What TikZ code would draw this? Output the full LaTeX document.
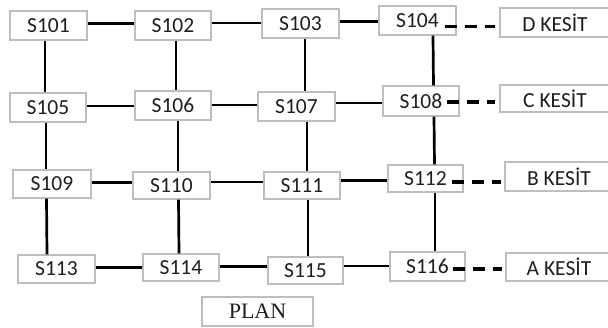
\documentclass[tikz,border=0pt]{standalone}
\usepackage{fontspec}
\setmainfont{Carlito}
\newfontfamily\planfont{Liberation Serif}
\definecolor{boxgray}{RGB}{190,190,190}
\definecolor{txt}{RGB}{30,30,30}
\begin{document}
\begin{tikzpicture}[x=1pt,y=-1pt,
  sbox/.style={draw=boxgray,line width=1.2pt,fill=white,inner sep=0pt,text=txt,
    minimum width=76pt,minimum height=29pt,font=\fontsize{21.5}{21.5}\selectfont},
  kbox/.style={sbox,minimum width=110pt},
  link/.style={line width=2.7pt,black},
  dashlink/.style={line width=3.6pt,black,dash pattern=on 12pt off 8pt}]
\useasboundingbox (0,0) rectangle (608,327);
% row 1
\node[sbox,minimum width=77pt] (S101) at (48.5,25.5) {S101};
\node[sbox] (S102) at (173,25.5) {S102};
\node[sbox,minimum width=77pt] (S103) at (300.5,23.5) {S103};
\node[sbox,minimum width=77pt] (S104) at (417.5,20.5) {S104};
\node[kbox] (D) at (555,22.5) {D KESİT};
% row 2
\node[sbox] (S105) at (48,107.5) {S105};
\node[sbox] (S106) at (173,105.5) {S106};
\node[sbox,minimum width=77pt] (S107) at (296.5,106.5) {S107};
\node[sbox,minimum height=30pt] (S108) at (421,101) {S108};
\node[kbox,minimum height=27pt] (C) at (555,98.5) {C KESİT};
% row 3
\node[sbox,minimum width=78pt,minimum height=28pt] (S109) at (52,184) {S109};
\node[sbox,minimum width=77pt,minimum height=27pt] (S110) at (171.5,185.5) {S110};
\node[sbox,minimum height=27pt] (S111) at (302,185.5) {S111};
\node[sbox,minimum width=75pt,minimum height=27pt] (S112) at (425.5,178.5) {S112};
\node[kbox,minimum width=108pt] (B) at (559,176.5) {B KESİT};
% row 4
\node[sbox,minimum width=77pt,minimum height=28pt] (S113) at (56.5,269) {S113};
\node[sbox,minimum height=27pt] (S114) at (181,267.5) {S114};
\node[sbox,minimum width=75pt,minimum height=27pt] (S115) at (305.5,270.5) {S115};
\node[sbox,minimum width=75pt] (S116) at (427.5,266.5) {S116};
\node[kbox,minimum width=106pt,minimum height=28pt] (A) at (559,267) {A KESİT};
% plan label
\node[sbox,minimum width=111pt,font=\planfont\fontsize{22}{22}\selectfont] (PLAN) at (257.5,311.5) {PLAN};
% horizontal links
\draw[link] ([yshift=2.2pt]S101.east) -- ([yshift=2.2pt]S102.west);
\draw[link] ([yshift=2.5pt]S102.east) -- ([yshift=0.5pt]S103.west);
\draw[link] ([yshift=1.8pt]S103.east) -- ([yshift=-1.2pt]S104.west);
\draw[link] ([yshift=1.5pt]S105.east) -- ([yshift=-0.5pt]S106.west);
\draw[link] ([yshift=0.5pt]S106.east) -- ([yshift=1.5pt]S107.west);
\draw[link] ([yshift=3.5pt]S107.east) -- ([yshift=-2pt]S108.west);
\draw[link] ([yshift=1.3pt]S109.east) -- ([yshift=2.8pt]S110.west);
\draw[link] ([yshift=3.5pt]S110.east) -- ([yshift=3.5pt]S111.west);
\draw[link] ([yshift=4.8pt]S111.east) -- ([yshift=-2.2pt]S112.west);
\draw[link] ([yshift=1.3pt]S113.east) -- ([yshift=-0.2pt]S114.west);
\draw[link] ([yshift=0.8pt]S114.east) -- ([yshift=3.8pt]S115.west);
\draw[link] ([yshift=4.5pt]S115.east) -- ([yshift=0.5pt]S116.west);
% vertical links
\draw[link] ([xshift=-3.5pt]S101.south) -- ([xshift=-3pt]S105.north);
\draw[link] ([xshift=-2pt]S105.south) -- ([xshift=-6pt]S109.north);
\draw[link] ([xshift=-5.5pt]S109.south) -- ([xshift=-9.5pt]S113.north);
\draw[link] ([xshift=3pt]S102.south) -- ([xshift=3pt]S106.north);
\draw[link] ([xshift=5pt]S106.south) -- ([xshift=6.5pt]S110.north);
\draw[link] ([xshift=7pt]S110.south) -- ([xshift=-2pt]S114.north);
\draw[link] ([xshift=4.5pt]S103.south) -- ([xshift=8.5pt]S107.north);
\draw[link] ([xshift=10.5pt]S107.south) -- ([xshift=5pt]S111.north);
\draw[link] ([xshift=6pt]S111.south) -- ([xshift=2.5pt]S115.north);
\draw[link] ([xshift=15.5pt]S104.south) -- ([xshift=12.5pt]S108.north);
\draw[link] ([xshift=13pt]S108.south) -- ([xshift=9pt]S112.north);
\draw[link] ([xshift=9.5pt]S112.south) -- ([xshift=7.5pt]S116.north);
% dashed section links
\coordinate (d1) at ([xshift=-12pt,yshift=-6pt]S104.east);
\coordinate (d2) at ([xshift=-13pt,yshift=-1pt]S108.east);
\coordinate (d3) at ([xshift=-12pt,yshift=-3.5pt]S112.east);
\coordinate (d4) at ([xshift=-13pt,yshift=-2.5pt]S116.east);
\draw[dashlink,shorten >=4pt] (d1) -- (d1 -| D.west);
\draw[dashlink,shorten >=4pt] (d2) -- (d2 -| C.west);
\draw[dashlink,shorten >=3pt] (d3) -- (d3 -| B.west);
\draw[dashlink,shorten >=3pt] (d4) -- (d4 -| A.west);
\end{tikzpicture}
\end{document}
